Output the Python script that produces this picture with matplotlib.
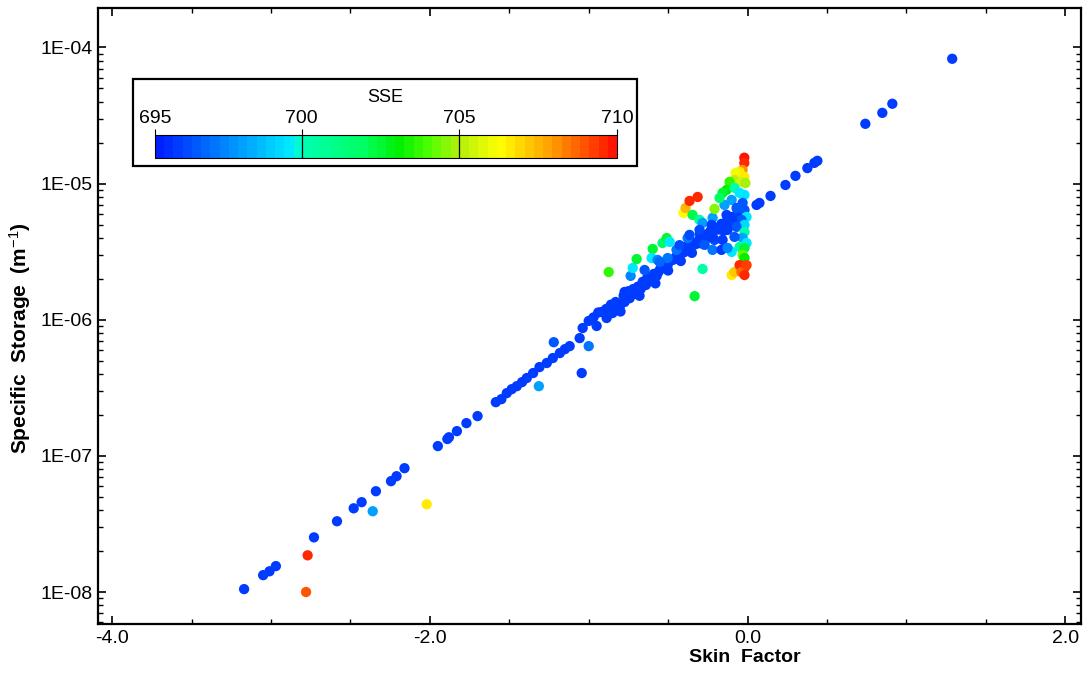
import numpy as np
import matplotlib
matplotlib.use("Agg")
import matplotlib.pyplot as plt
from matplotlib.colors import LinearSegmentedColormap, Normalize
from matplotlib.ticker import MultipleLocator, LogLocator, FuncFormatter, FormatStrFormatter, NullFormatter
from matplotlib.patches import Rectangle

plt.rcParams['font.family'] = ['Liberation Sans', 'DejaVu Sans']
plt.rcParams['mathtext.fontset'] = 'custom'
plt.rcParams['mathtext.rm'] = 'Liberation Sans'
plt.rcParams['mathtext.it'] = 'Liberation Sans'
plt.rcParams['mathtext.bf'] = 'Liberation Sans:bold'

# main trend of runs (all low SSE)
line_skin = [-3.17, -3.05, -3.01, -2.97, -2.73, -2.585, -2.48, -2.43, -2.34, -2.245, -2.21, -2.16,
             -1.95, -1.89, -1.88, -1.83, -1.77, -1.70, -1.585, -1.55, -1.516, -1.485, -1.453, -1.42,
             -1.39, -1.35, -1.31, -1.264, -1.226, -1.182, -1.15, -1.12, -1.057, -1.038, -1.0, -0.95,
             -0.887, -0.85, -0.805, -0.774, -0.742, -0.704, -0.673, -0.64, -0.604, -0.572, -0.535,
             -0.503, -0.472, -0.434, -0.403, -0.365, -0.333, -0.302, -0.264, -0.233, -0.2, -0.164,
             -0.126, -0.094, -0.063,
             -0.82, -0.76, -0.70, -0.62, -0.55, -0.45, -0.38, -0.30, -0.25, -0.18, -0.12,
             -0.80, -0.68, -0.58, -0.50, -0.42, -0.35, -0.28, -0.22, -0.15,
             0.057, 0.075, 0.145, 0.239, 0.302, 0.377, 0.421, 0.44, 0.742, 0.849, 0.912, 1.289]
line_ss = [1.05e-8, 1.33e-8, 1.42e-8, 1.55e-8, 2.52e-8, 3.31e-8, 4.12e-8, 4.57e-8, 5.5e-8, 6.52e-8, 7.09e-8, 8.12e-8,
           1.18e-7, 1.33e-7, 1.37e-7, 1.52e-7, 1.74e-7, 1.96e-7, 2.48e-7, 2.61e-7, 2.89e-7, 3.09e-7, 3.25e-7, 3.48e-7,
           3.73e-7, 4.06e-7, 4.49e-7, 4.81e-7, 5.23e-7, 5.69e-7, 6.08e-7, 6.4e-7, 7.33e-7, 8.69e-7, 9.8e-7, 9.0e-7,
           1.03e-6, 1.12e-6, 1.24e-6, 1.35e-6, 1.44e-6, 1.55e-6, 1.68e-6, 1.8e-6, 1.96e-6, 2.1e-6, 2.4e-6,
           2.52e-6, 2.75e-6, 2.94e-6, 3.15e-6, 3.43e-6, 3.67e-6, 3.92e-6, 4.2e-6, 4.49e-6, 4.72e-6, 5.06e-6,
           5.41e-6, 5.69e-6, 6.0e-6,
           1.3e-6, 1.5e-6, 1.68e-6, 2.0e-6, 2.35e-6, 2.9e-6, 3.5e-6, 4.3e-6, 4.0e-6, 4.6e-6, 5.0e-6,
           1.15e-6, 1.5e-6, 1.85e-6, 2.3e-6, 2.7e-6, 3.1e-6, 3.6e-6, 4.0e-6, 4.5e-6,
           6.97e-6, 7.21e-6, 8.12e-6, 9.77e-6, 1.14e-5, 1.3e-5, 1.42e-5, 1.47e-5, 2.75e-5, 3.31e-5, 3.86e-5, 8.26e-5]
line_sse = [696.0] * len(line_skin)

# extra runs filling the thick band between skin -1 and 0
band_skin = [-0.97, -0.92, -0.86, -0.78, -0.72, -0.66, -0.59, -0.52, -0.46, -0.40, -0.33, -0.27, -0.21,
             -0.15, -0.09, -0.94, -0.89, -0.83, -0.75, -0.69, -0.63, -0.56, -0.49, -0.43, -0.37, -0.31,
             -0.24, -0.18, -0.12]
band_ss = [1.04e-6, 1.14e-6, 1.29e-6, 1.50e-6, 1.68e-6, 1.90e-6, 2.17e-6, 2.48e-6, 2.79e-6, 3.13e-6,
           3.58e-6, 4.02e-6, 4.52e-6, 5.07e-6, 5.69e-6, 1.13e-6, 1.20e-6, 1.35e-6, 1.62e-6, 1.75e-6,
           2.05e-6, 2.25e-6, 2.70e-6, 2.90e-6, 3.40e-6, 3.65e-6, 4.35e-6, 4.70e-6, 5.40e-6]
band_sse = [696.2] * len(band_skin)

# scattered runs off the trend
off_skin = [-2.78, -2.77, -2.36, -2.02, -1.314, -1.22, -1.044, -1.0]
off_ss = [1.0e-8, 1.86e-8, 3.92e-8, 4.41e-8, 3.25e-7, 6.84e-7, 4.06e-7, 6.4e-7]
off_sse = [709.0, 709.5, 698.0, 706.5, 698.2, 696.8, 696.2, 697.2]

# cluster above the trend near skin -0.9 .. -0.2
clu_skin = [-0.774, -0.736, -0.723, -0.698, -0.874, -0.597, -0.604, -0.566, -0.535, -0.509, -0.49,
            -0.503, -0.447, -0.377, -0.333, -0.283, -0.403, -0.39, -0.365, -0.314, -0.346, -0.302,
            -0.283, -0.22, -0.208, -0.22, -0.428, -0.365, -0.302, -0.27, -0.208, -0.553, -0.648]
clu_ss = [1.6e-6, 2.1e-6, 2.4e-6, 2.79e-6, 2.24e-6, 3.31e-6, 2.84e-6, 2.75e-6, 3.66e-6, 3.98e-6, 3.73e-6,
          2.84e-6, 3.26e-6, 3.98e-6, 1.49e-6, 2.36e-6, 6.09e-6, 6.62e-6, 7.46e-6, 7.98e-6, 5.89e-6, 5.41e-6,
          5.14e-6, 5.6e-6, 6.52e-6, 3.26e-6, 3.53e-6, 4.2e-6, 4.57e-6, 3.55e-6, 3.86e-6, 2.66e-6, 2.32e-6]
clu_sse = [696.2, 697.5, 699.6, 702.5, 703.6, 702.6, 699.6, 697.5, 701.6, 702.6, 699.6,
           697.4, 697.3, 697.4, 702.6, 700.6, 706.2, 707.6, 709.6, 709.6, 702.2, 700.6,
           698.2, 698.2, 704.6, 697.2, 696.4, 696.4, 696.4, 696.6, 696.4, 697.0, 696.6]

# column of runs at skin ~ 0
col_skin = [-0.02, -0.02, -0.031, -0.05, -0.075, -0.02, -0.082, -0.038, -0.113, -0.013,
            -0.132, -0.082, -0.157, -0.05, -0.019, -0.1, -0.145, -0.031, -0.069, -0.019,
            -0.176, -0.006, -0.038, -0.094, -0.132, -0.019, -0.069, -0.019, -0.126, -0.031,
            -0.082, -0.157, -0.006, -0.05, -0.1, -0.019, -0.031, -0.019, -0.1, -0.082,
            -0.05, -0.019, -0.038, -0.019, -0.006, -0.226, -0.189, -0.22, -0.164, -0.126]
col_ss = [1.55e-5, 1.42e-5, 1.26e-5, 1.22e-5, 1.2e-5, 1.12e-5, 1.06e-5, 1.03e-5, 1.03e-5, 1.01e-5,
          8.99e-6, 9.3e-6, 8.55e-6, 8.55e-6, 8.26e-6, 7.59e-6, 6.97e-6, 7.21e-6, 6.62e-6, 6.41e-6,
          7.85e-6, 5.69e-6, 5.41e-6, 5.41e-6, 5.89e-6, 4.97e-6, 4.81e-6, 4.41e-6, 4.57e-6, 3.99e-6,
          4.06e-6, 3.86e-6, 3.66e-6, 3.43e-6, 3.15e-6, 3.37e-6, 2.99e-6, 2.84e-6, 2.13e-6, 2.24e-6,
          2.52e-6, 2.4e-6, 2.24e-6, 2.13e-6, 2.52e-6, 4.97e-6, 4.72e-6, 4.06e-6, 3.26e-6, 3.37e-6]
col_sse = [710.0, 709.6, 708.2, 706.6, 706.0, 706.6, 705.2, 705.6, 703.6, 705.0,
           703.0, 700.2, 702.6, 699.6, 699.6, 698.2, 698.0, 696.6, 696.6, 696.6,
           702.0, 699.6, 696.6, 696.2, 696.2, 699.2, 696.6, 700.2, 696.2, 698.2,
           696.6, 696.2, 699.6, 700.6, 699.6, 702.6, 704.2, 703.2, 706.6, 707.2,
           709.6, 709.6, 708.6, 709.6, 709.2, 696.2, 696.2, 696.2, 696.2, 697.6]

sse_min, sse_max = 695.35, 710.0
cb_ticks = [695.35, 700, 705, 710]
cb_labels = ['695', '700', '705', '710']

skin = line_skin + band_skin + off_skin + clu_skin + col_skin
ss = line_ss + band_ss + off_ss + clu_ss + col_ss
sse = line_sse + band_sse + off_sse + clu_sse + col_sse

stops = [(0.0, (0.0, 0.12, 1.0)), (0.1, (0.0, 0.40, 1.0)), (0.2, (0.0, 0.67, 1.0)),
         (0.3, (0.0, 0.95, 1.0)), (0.31, (0.0, 1.0, 0.72)), (0.45, (0.0, 1.0, 0.38)),
         (0.53, (0.0, 0.94, 0.0)), (0.6, (0.33, 1.0, 0.0)), (0.657, (0.68, 0.94, 0.05)),
         (0.75, (1.0, 1.0, 0.0)), (0.85, (1.0, 0.67, 0.0)), (0.93, (1.0, 0.36, 0.0)),
         (1.0, (1.0, 0.08, 0.0))]
cmap = LinearSegmentedColormap.from_list('sse', stops, N=50)
norm = Normalize(sse_min, sse_max)

fig = plt.figure(figsize=(10.86, 6.75), dpi=100)
ax = fig.add_axes([98/1086, 51/675, 983/1086, 616/675])
sc = ax.scatter(skin, ss, c=sse, cmap=cmap, norm=norm, s=55, edgecolors='none', zorder=3)

ax.set_yscale('log')
ax.set_xlim(-4.09, 2.1)
ax.set_ylim(10**-8.235, 10**-3.71)
ax.xaxis.set_major_locator(MultipleLocator(2))
ax.xaxis.set_minor_locator(MultipleLocator(0.5))
ax.xaxis.set_major_formatter(FormatStrFormatter('%.1f'))
ax.yaxis.set_major_locator(LogLocator(base=10))
ax.yaxis.set_minor_locator(LogLocator(base=10, subs=range(2, 10)))
ax.yaxis.set_minor_formatter(NullFormatter())
ax.yaxis.set_major_formatter(FuncFormatter(lambda v, p: '1E-%02d' % round(-np.log10(v))))
ax.tick_params(which='both', direction='in', top=True, right=True, labelsize=14)
ax.tick_params(which='major', length=6, width=1.2, pad=4)
ax.tick_params(which='minor', length=3.5, width=1.0)
for sp in ax.spines.values():
    sp.set_linewidth(1.6)

fig.text(745/1086, 1 - 657/675, 'Skin  Factor', ha='center', va='center', fontsize=14, fontweight='bold')
fig.text(20/1086, 1 - 338/675, 'Specific  Storage  (m$^{-1}$)', ha='center', va='center',
         rotation=90, fontsize=15, fontweight='bold')

# legend box with colour bar
box = Rectangle((133/1086, 1 - 166/675), 504/1086, 87/675, transform=fig.transFigure,
                facecolor='white', edgecolor='black', lw=1.6, zorder=10, clip_on=False)
ax.add_patch(box)
cax = fig.add_axes([155/1086, 1 - 158/675, 462/1086, 23/675])
cb = fig.colorbar(sc, cax=cax, orientation='horizontal', ticks=cb_ticks)
cb.set_ticklabels(cb_labels)
cax.xaxis.set_ticks_position('top')
cax.tick_params(length=4, width=0.8, direction='out', labelsize=14, pad=2)
cb.outline.set_linewidth(0.8)
cax.axvline(700, color='black', lw=0.9)
cax.axvline(705, color='black', lw=0.9)
fig.text(385/1086, 1 - 97/675, 'SSE', ha='center', va='center', fontsize=13)

fig.savefig('out.png', dpi=100)
